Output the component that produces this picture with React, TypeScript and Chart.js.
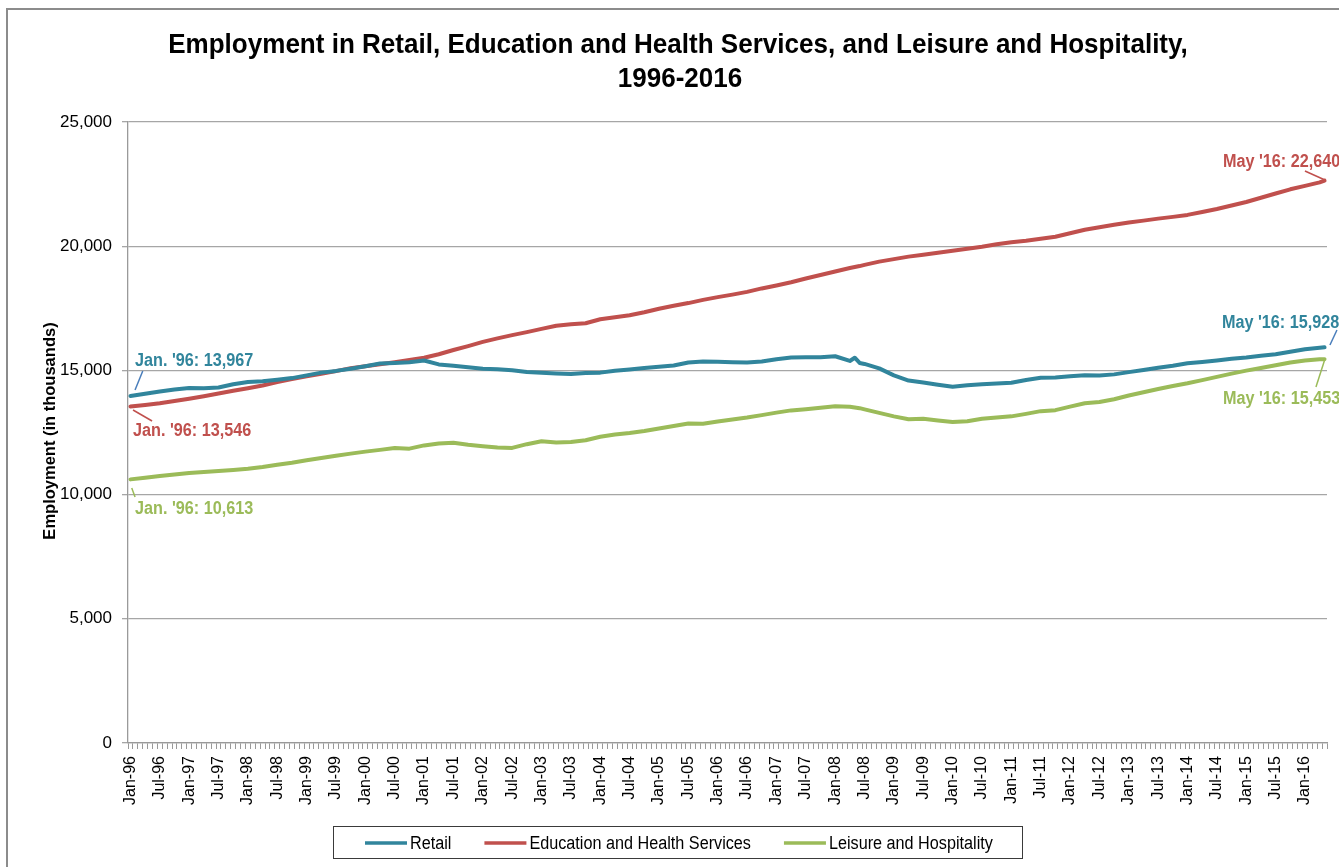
import { useEffect, useRef } from 'react';
import Chart from 'chart.js/auto';

const FONT = '"Liberation Sans", Arial, Helvetica, sans-serif';

// x axis categories: every month from Jan-96 to May-16
const monthNames = ['Jan', 'Feb', 'Mar', 'Apr', 'May', 'Jun', 'Jul', 'Aug', 'Sep', 'Oct', 'Nov', 'Dec'];
const firstYear = 1996;
const lastYear = 2016;
const lastMonthOfLastYear = 4; // May

const axisMonths: string[] = [];
for (let y = firstYear; y <= lastYear; y++) {
  for (let m = 0; m < 12; m++) {
    if (y === lastYear && m > lastMonthOfLastYear) break;
    axisMonths.push(`${monthNames[m]}-${String(y).slice(2)}`);
  }
}

const sampleMonths = [
  'Jan-96', 'Apr-96', 'Jul-96', 'Oct-96',
  'Jan-97', 'Apr-97', 'Jul-97', 'Oct-97',
  'Jan-98', 'Apr-98', 'Jul-98', 'Oct-98',
  'Jan-99', 'Apr-99', 'Jul-99', 'Oct-99',
  'Jan-00', 'Apr-00', 'Jul-00', 'Oct-00',
  'Jan-01', 'Apr-01', 'Jul-01', 'Oct-01',
  'Jan-02', 'Apr-02', 'Jul-02', 'Oct-02',
  'Jan-03', 'Apr-03', 'Jul-03', 'Oct-03',
  'Jan-04', 'Apr-04', 'Jul-04', 'Oct-04',
  'Jan-05', 'Apr-05', 'Jul-05', 'Oct-05',
  'Jan-06', 'Apr-06', 'Jul-06', 'Oct-06',
  'Jan-07', 'Apr-07', 'Jul-07', 'Oct-07',
  'Jan-08', 'Apr-08', 'May-08', 'Jun-08', 'Jul-08', 'Oct-08',
  'Jan-09', 'Apr-09', 'Jul-09', 'Oct-09',
  'Jan-10', 'Apr-10', 'Jul-10', 'Oct-10',
  'Jan-11', 'Apr-11', 'Jul-11', 'Oct-11',
  'Jan-12', 'Apr-12', 'Jul-12', 'Oct-12',
  'Jan-13', 'Apr-13', 'Jul-13', 'Oct-13',
  'Jan-14', 'Apr-14', 'Jul-14', 'Oct-14',
  'Jan-15', 'Apr-15', 'Jul-15', 'Oct-15',
  'Jan-16', 'Apr-16', 'May-16',
];

// employment, thousands
const retail = [
  13967, 14060, 14150, 14230,
  14290, 14280, 14310, 14440,
  14530, 14560, 14620, 14690,
  14800, 14910, 14980, 15070,
  15170, 15280, 15300, 15330,
  15400, 15240, 15190, 15130,
  15070, 15050, 15010, 14940,
  14910, 14880, 14855, 14900,
  14910, 14990, 15040, 15100,
  15150, 15200, 15320, 15360,
  15350, 15330, 15320, 15360,
  15450, 15520, 15530, 15530,
  15570, 15380, 15510, 15300, 15260, 15080,
  14800, 14590, 14510, 14420,
  14340, 14400, 14440, 14470,
  14500, 14610, 14700, 14710,
  14760, 14800, 14790, 14840,
  14930, 15020, 15110, 15190,
  15290, 15340, 15400, 15470,
  15520, 15590, 15650, 15750,
  15850, 15910, 15928,
];

const education = [
  13546, 13610, 13680, 13770,
  13860, 13960, 14070, 14180,
  14280, 14390, 14530, 14650,
  14760, 14860, 14970, 15090,
  15170, 15250, 15330, 15420,
  15510, 15650, 15820, 15980,
  16150, 16290, 16420, 16540,
  16670, 16800, 16860, 16900,
  17060, 17140, 17220, 17340,
  17480, 17600, 17710, 17840,
  17950, 18050, 18160, 18300,
  18420, 18550, 18700, 18840,
  18980, 19120, 19160, 19200, 19250, 19380,
  19480, 19580, 19660, 19740,
  19820, 19900, 19980, 20080,
  20160, 20220, 20300, 20380,
  20520, 20660, 20760, 20860,
  20950, 21030, 21110, 21180,
  21260, 21380, 21500, 21640,
  21780, 21950, 22120, 22290,
  22430, 22570, 22640,
];

const leisure = [
  10613, 10680, 10750, 10810,
  10870, 10910, 10950, 10990,
  11040, 11110, 11200, 11280,
  11380, 11470, 11560, 11650,
  11730, 11800, 11880, 11850,
  11980, 12060, 12090, 12010,
  11950, 11900, 11880, 12030,
  12150, 12100, 12120, 12190,
  12330, 12420, 12480, 12560,
  12660, 12760, 12860, 12850,
  12940, 13020, 13100, 13200,
  13300, 13390, 13440, 13500,
  13560, 13540, 13510, 13480, 13430, 13290,
  13150, 13030, 13050, 12980,
  12920, 12950, 13050, 13100,
  13150, 13250, 13360, 13400,
  13540, 13680, 13730, 13840,
  13990, 14120, 14250, 14370,
  14480, 14610, 14740, 14870,
  14990, 15100, 15210, 15320,
  15400, 15450, 15453,
];

const yTicks = [0, 5000, 10000, 15000, 20000, 25000];

const series = [
  { name: 'Retail', values: retail, color: '#31859C', leader: '#4A7EBB' },
  { name: 'Education and Health Services', values: education, color: '#C0504D', leader: '#C0504D' },
  { name: 'Leisure and Hospitality', values: leisure, color: '#9BBB59', leader: '#9BBB59' },
];

// callout placement, relative to the labelled point
const callouts = [
  { s: 0, end: false, line: [4.6, -6, 12.3, -25], text: [4.6, -30] },
  { s: 1, end: false, line: [2.6, 3.5, 21.6, 14.5], text: [2.6, 29.5] },
  { s: 2, end: false, line: [1.3, 8.6, 4.6, 17.6], text: [4.6, 34.6] },
  { s: 1, end: true, line: [0.4, -0.6, -19.6, -9.6], text: [-101.6, -13.6] },
  { s: 0, end: true, line: [5.4, -2.3, 12.4, -17.3], text: [-102.6, -19.3] },
  { s: 2, end: true, line: [0.4, -0.2, -8.6, 27.8], text: [-101.6, 44.8] },
];

const fmt = (v: number) => v.toLocaleString('en-US');

function drawText(
  ctx: CanvasRenderingContext2D,
  text: string,
  x: number,
  y: number,
  font: string,
  color: string,
  sx: number,
  align: CanvasTextAlign = 'left',
) {
  ctx.save();
  ctx.font = font;
  ctx.fillStyle = color;
  ctx.textAlign = align;
  ctx.textBaseline = 'alphabetic';
  ctx.translate(x, y);
  ctx.scale(sx, 1);
  ctx.fillText(text, 0, 0);
  ctx.restore();
}

const decorPlugin = {
  id: 'decor',
  afterDraw(chart: any) {
    const ctx: CanvasRenderingContext2D = chart.ctx;
    const xs = chart.scales.x;
    const ys = chart.scales.y;

    // title
    const titleFont = `bold 28px ${FONT}`;
    drawText(ctx, 'Employment in Retail, Education and Health Services, and Leisure and Hospitality,', 678, 53, titleFont, '#000', 0.93, 'center');
    drawText(ctx, '1996-2016', 680, 87, titleFont, '#000', 0.93, 'center');

    // y axis title
    ctx.save();
    ctx.translate(50, 431);
    ctx.rotate(-Math.PI / 2);
    ctx.font = `bold 16.5px ${FONT}`;
    ctx.fillStyle = '#000';
    ctx.textAlign = 'center';
    ctx.textBaseline = 'middle';
    ctx.fillText('Employment (in thousands)', 0, 0);
    ctx.restore();

    // callouts on first and last values
    callouts.forEach((c) => {
      const s = series[c.s];
      const idx = c.end ? s.values.length - 1 : 0;
      const month = sampleMonths[idx];
      const px = xs.getPixelForValue(axisMonths.indexOf(month));
      const py = ys.getPixelForValue(s.values[idx]);
      ctx.save();
      ctx.strokeStyle = s.leader;
      ctx.lineWidth = 1.5;
      ctx.beginPath();
      ctx.moveTo(px + c.line[0], py + c.line[1]);
      ctx.lineTo(px + c.line[2], py + c.line[3]);
      ctx.stroke();
      ctx.restore();
      const [mon, yr] = month.split('-');
      const label = `${c.end ? mon : mon + '.'} '${yr}: ${fmt(s.values[idx])}`;
      drawText(ctx, label, px + c.text[0], py + c.text[1], `bold 18px ${FONT}`, s.color, 0.9);
    });

    // legend
    ctx.save();
    ctx.strokeStyle = '#3a3a3a';
    ctx.lineWidth = 1;
    ctx.strokeRect(333.5, 826.5, 689, 32);
    ctx.restore();
    const legendFont = `18px ${FONT}`;
    let lx = 365;
    const ly = 843;
    series.forEach((s) => {
      ctx.save();
      ctx.strokeStyle = s.color;
      ctx.lineWidth = 3.5;
      ctx.beginPath();
      ctx.moveTo(lx, ly);
      ctx.lineTo(lx + 42, ly);
      ctx.stroke();
      ctx.font = legendFont;
      const w = ctx.measureText(s.name).width * 0.9;
      ctx.restore();
      drawText(ctx, s.name, lx + 45, 849, legendFont, '#000', 0.9);
      lx += 45 + w + 33;
    });
  },
};

export default function App() {
  const canvasRef = useRef<HTMLCanvasElement>(null);

  useEffect(() => {
    if (!canvasRef.current) return;

    const chart = new Chart(canvasRef.current, {
      type: 'line',
      data: {
        labels: axisMonths,
        datasets: series.map((s) => ({
          label: s.name,
          data: sampleMonths.map((m, i) => ({ x: m, y: s.values[i] })),
          borderColor: s.color,
          backgroundColor: s.color,
          borderWidth: 4,
          borderJoinStyle: 'round' as const,
          borderCapStyle: 'round' as const,
          pointRadius: 0,
          tension: 0,
          fill: false,
        })),
      },
      options: {
        responsive: false,
        animation: false,
        events: [],
        layout: { padding: { top: 122, right: 12, bottom: 0, left: 0 } },
        plugins: {
          legend: { display: false },
          title: { display: false },
          tooltip: { enabled: false },
        },
        scales: {
          x: {
            type: 'category',
            offset: true,
            grid: {
              offset: true,
              drawOnChartArea: false,
              drawTicks: true,
              tickLength: 6,
              color: '#9a9a9a',
              lineWidth: 1,
            },
            border: { display: true, color: '#9a9a9a', width: 1.3 },
            ticks: {
              autoSkip: false,
              minRotation: 90,
              maxRotation: 90,
              padding: 7,
              color: '#000',
              font: { family: FONT, size: 16 },
              callback: (_v: any, index: number) => (index % 6 === 0 ? axisMonths[index] : ''),
            },
            afterFit: (scale: any) => {
              scale.height = 124;
              scale.paddingLeft = 0;
              scale.paddingRight = 0;
            },
          },
          y: {
            min: 0,
            max: 25000,
            afterBuildTicks: (scale: any) => {
              scale.ticks = yTicks.map((v) => ({ value: v }));
            },
            grid: { color: '#a6a6a6', lineWidth: 1.3, tickLength: 6, drawTicks: true },
            border: { display: true, color: '#9a9a9a', width: 1.3 },
            ticks: {
              padding: 10,
              color: '#000',
              font: { family: FONT, size: 17 },
              callback: (v: any) => fmt(Number(v)),
            },
            afterFit: (scale: any) => {
              scale.width = 128;
              scale.paddingTop = 0;
              scale.paddingBottom = 0;
            },
          },
        },
      },
      plugins: [decorPlugin],
    });

    return () => {
      chart.destroy();
    };
  }, []);

  return (
    <div style={{ position: 'fixed', left: 0, top: 0, width: 1339, height: 867, overflow: 'hidden', background: '#fff' }}>
      <div
        style={{
          position: 'absolute',
          left: 6,
          top: 8,
          width: 1400,
          height: 900,
          border: '2px solid #8c8c8c',
          boxSizing: 'border-box',
        }}
      />
      <canvas
        ref={canvasRef}
        width={1339}
        height={867}
        style={{ position: 'absolute', left: 0, top: 0, width: 1339, height: 867 }}
      />
    </div>
  );
}
